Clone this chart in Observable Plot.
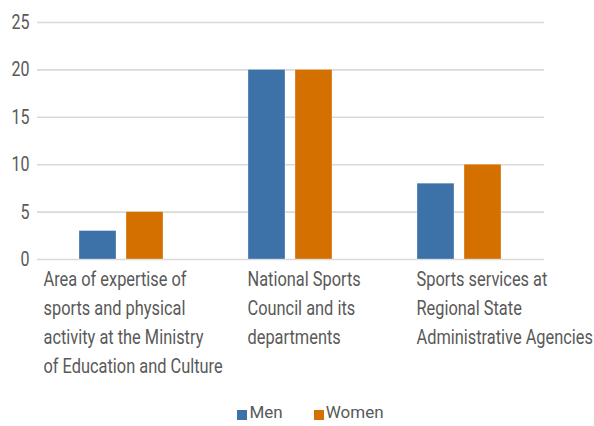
<!DOCTYPE html>
<html>
<head>
<meta charset="utf-8">
<script src="https://cdn.jsdelivr.net/npm/d3@7"></script>
<script src="https://cdn.jsdelivr.net/npm/@observablehq/plot@0.6"></script>
<style>
  html, body { margin: 0; padding: 0; background: #fff; }
  #chart { width: 594px; font-family: Roboto, sans-serif; }
  .legend { display: flex; justify-content: center; align-items: center; gap: 31px; padding-left: 27px; height: 28px; font-size: 17px; color: #595959; font-family: Roboto, sans-serif; }
  .legend span.item { display: flex; align-items: center; gap: 2px; }
  .legend span.sw { display: inline-block; width: 10px; height: 10px; position: relative; top: 3px; }
</style>
</head>
<body>
<div id="chart"></div>
<script>
const categories = [
  "Area of expertise of\nsports and physical\nactivity at the Ministry\nof Education and Culture",
  "National Sports\nCouncil and its\ndepartments",
  "Sports services at\nRegional State\nAdministrative Agencies"
];
const series = ["Men", "Women"];
const men = [3, 20, 8];
const women = [5, 20, 10];
const colors = ["#3c72a7", "#d47000"];
const yTicks = [0, 5, 10, 15, 20, 25];

const data = [];
categories.forEach((c, i) => {
  data.push({category: c, series: "Men", value: men[i]});
  data.push({category: c, series: "Women", value: women[i]});
});

const textColor = "#595959";

const plot = Plot.plot({
  width: 594,
  height: 398,
  marginTop: 22,
  marginBottom: 139,
  marginLeft: 36,
  marginRight: 49,
  style: {fontFamily: "Roboto, sans-serif", fontSize: "20px", color: textColor, background: "#fff"},
  fx: {domain: categories, padding: 0, axis: null},
  x: {domain: series, paddingInner: 0.208, paddingOuter: 0.872, axis: null},
  y: {domain: [0, 25], axis: null},
  color: {domain: series, range: colors},
  marks: [
    Plot.gridY(yTicks, {stroke: "#d9d9d9", strokeOpacity: 1, strokeWidth: 1.6}),
    Plot.barY(data, {fx: "category", x: "series", y: "value", fill: "series", stroke: "#fff", strokeWidth: 0.6, strokeOpacity: 0.5}),
    Plot.axisY(yTicks, {tickSize: 0, tickPadding: 8, fontSize: 20, fill: textColor, label: null, className: "ytick"}),
    ...categories.map((c, i) => Plot.text([c], {
      fx: d => d,
      text: d => d,
      frameAnchor: "bottom-left",
      textAnchor: "start",
      lineAnchor: "top",
      lineHeight: 1.38,
      dx: i === 0 ? 6 : 41,
      dy: 6,
      fontSize: 21,
      fill: textColor,
      className: "catlabel"
    }))
  ]
});

// condense the text horizontally (reference uses a condensed face)
plot.querySelectorAll("text").forEach(t => {
  const inLabel = t.closest(".catlabel");
  const s = inLabel ? 0.78 : 0.8;
  const tr = t.getAttribute("transform");
  if (tr) t.setAttribute("transform", tr + ` scale(${s},1)`);
});

const chart = document.getElementById("chart");
chart.appendChild(plot);

const legend = document.createElement("div");
legend.className = "legend";
series.forEach((s, i) => {
  const item = document.createElement("span");
  item.className = "item";
  const sw = document.createElement("span");
  sw.className = "sw";
  sw.style.background = colors[i];
  const t = document.createElement("span");
  t.textContent = s;
  item.appendChild(sw);
  item.appendChild(t);
  legend.appendChild(item);
});
chart.appendChild(legend);
</script>
</body>
</html>
